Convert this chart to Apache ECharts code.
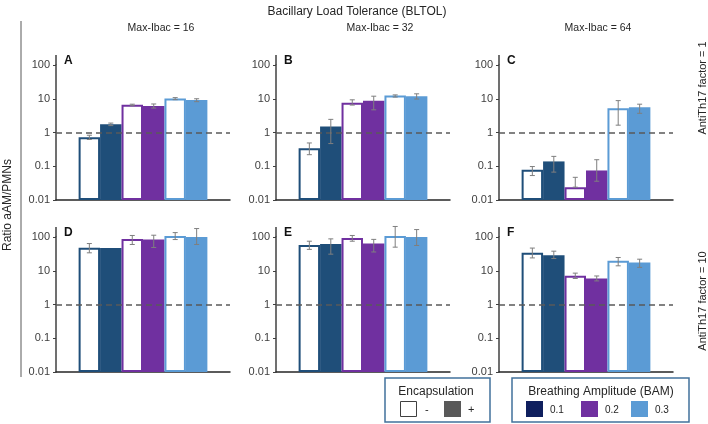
<!DOCTYPE html>
<html><head><meta charset="utf-8">
<script src="https://cdn.jsdelivr.net/npm/echarts@6/dist/echarts.min.js"></script>
<style>html,body{margin:0;padding:0;background:#fff}#c{width:708px;height:424px}</style>
</head><body><div id="c"></div>
<script>
// ---------- data ----------
const mainTitle = 'Bacillary Load Tolerance (BLTOL)';
const yAxisTitle = 'Ratio aAM/PMNs';
const panelLetters = ['A', 'B', 'C', 'D', 'E', 'F'];
const colTitles = ['Max-Ibac = 16', 'Max-Ibac = 32', 'Max-Ibac = 64'];
const rowTitles = ['AntiTh17 factor = 1', 'AntiTh17 factor = 10'];
const barNames = ['0.1 -', '0.1 +', '0.2 -', '0.2 +', '0.3 -', '0.3 +'];
const encLegendTitle = 'Encapsulation';
const encLegendLabels = ['-', '+'];
const bamLegendTitle = 'Breathing Amplitude (BAM)';
const bamLegendLabels = ['0.1', '0.2', '0.3'];

const valA  = [0.72, 1.75, 6.6, 6.1, 10.2, 9.2];
const lowA  = [0.62, 1.6, 6.2, 5.3, 9.4, 8.2];
const highA = [0.83, 1.9, 6.9, 7.0, 10.8, 10.0];

const valB  = [0.34, 1.5, 7.6, 8.7, 12.5, 11.9];
const lowB  = [0.22, 0.47, 6.5, 4.7, 11.2, 9.8];
const highB = [0.49, 2.45, 9.3, 11.9, 13.0, 14.0];

const valC  = [0.079, 0.139, 0.024, 0.075, 5.2, 5.6];
const lowC  = [0.053, 0.067, 0.024, 0.036, 1.65, 3.7];
const highC = [0.098, 0.196, 0.047, 0.156, 8.8, 6.9];

const valD  = [48, 47, 87, 84, 112, 120];
const lowD  = [34, 47, 60, 49, 84, 60];
const highD = [64, 47, 111, 113, 135, 178];

const valE  = [58, 62, 94, 64, 123, 112];
const lowE  = [43, 31, 75, 36, 50, 56];
const highE = [75, 88, 111, 85, 205, 166];

const valF  = [34, 29, 7.1, 5.9, 19.7, 17.5];
const lowF  = [24, 23, 5.9, 5.0, 14, 12.6];
const highF = [47, 38, 8.5, 7.0, 24.7, 22];

const refLine = 1;

const values = [valA, valB, valC, valD, valE, valF];
const lows = [lowA, lowB, lowC, lowD, lowE, lowF];
const highs = [highA, highB, highC, highD, highE, highF];

// ---------- style / layout ----------
const FONT = '"Liberation Sans", Arial, sans-serif';
const NAVY = '#1F4E79', PURPLE = '#7030A0', LBLUE = '#5B9BD5';
const barColors = [NAVY, NAVY, PURPLE, PURPLE, LBLUE, LBLUE];
const hollow = [true, false, true, false, true, false];
const gridLeft = [56, 276, 499], gridTop = [65, 237], gridW = 174, gridH = 135;
const TXT = '#262626';

const grids = [], xAxes = [], yAxes = [], series = [], graphics = [];
for (let p = 0; p < 6; p++) {
  const col = p % 3, row = Math.floor(p / 3);
  const L = gridLeft[col], T = gridTop[row];
  grids.push({ left: L, top: T, width: gridW, height: gridH, containLabel: false });
  xAxes.push({
    gridIndex: p, type: 'category', data: ['g'],
    axisLine: { show: true, lineStyle: { color: '#262626', width: 1.5 } },
    axisTick: { show: false }, axisLabel: { show: false }, splitLine: { show: false }
  });
  yAxes.push({
    gridIndex: p, type: 'log', logBase: 10, min: 0.01, max: 100, startValue: 0.01,
    axisLine: { show: true, lineStyle: { color: '#404040', width: 1.5 } },
    axisTick: { show: true, length: 3, inside: false, lineStyle: { color: '#404040' } },
    axisLabel: { show: true, color: '#404040', fontSize: 11, fontFamily: FONT, margin: 6,
      formatter: v => String(parseFloat(Number(v).toPrecision(2))) },
    splitLine: { show: false }
  });
  for (let k = 0; k < 6; k++) {
    const s = {
      type: 'bar', name: barNames[k], xAxisIndex: p, yAxisIndex: p,
      data: [values[p][k]], barGap: '0%', barCategoryGap: '26%',
      silent: true, animation: false,
      itemStyle: hollow[k]
        ? { color: '#ffffff', borderColor: barColors[k], borderWidth: 2 }
        : { color: barColors[k], borderWidth: 0 }
    };
    if (k === 5) {
      s.markLine = {
        silent: true, symbol: 'none', animation: false,
        data: [{ yAxis: refLine }],
        label: { show: false },
        lineStyle: { type: [6, 4], color: '#595959', width: 1.5 }
      };
      s.z = 3;
    }
    series.push(s);
  }
  const ebData = [];
  for (let k = 0; k < 6; k++) ebData.push([0, lows[p][k], highs[p][k], k]);
  series.push({
    type: 'custom', xAxisIndex: p, yAxisIndex: p, z: 5, silent: true, animation: false,
    encode: { x: 0, y: [1, 2] },
    data: ebData,
    renderItem: (params, api) => {
      const lo = api.value(1), hi = api.value(2), k = api.value(3);
      if (hi - lo < 1e-9) return null;
      const band = api.size([1, 1])[0];
      const barW = band * 0.74 / 6;
      const c = api.coord([0, lo]);
      const cx = c[0] + (k - 2.5) * barW;
      const yl = c[1], yh = api.coord([0, hi])[1];
      const st = { stroke: '#7f7f7f', lineWidth: 1 };
      return { type: 'group', children: [
        { type: 'line', shape: { x1: cx, y1: yl, x2: cx, y2: yh }, style: st },
        { type: 'line', shape: { x1: cx - 2.5, y1: yl, x2: cx + 2.5, y2: yl }, style: st },
        { type: 'line', shape: { x1: cx - 2.5, y1: yh, x2: cx + 2.5, y2: yh }, style: st }
      ] };
    }
  });
  // axis line extension above 100 and panel letter
  graphics.push({ type: 'line', silent: true, shape: { x1: L, y1: T - 10, x2: L, y2: T },
    style: { stroke: '#404040', lineWidth: 1.5 } });
  graphics.push({ type: 'text', silent: true, x: L + 8, y: T - 4,
    style: { text: panelLetters[p], font: 'bold 12px ' + FONT, fill: '#111', textVerticalAlign: 'middle' } });
}

// titles
graphics.push({ type: 'text', silent: true, x: 357, y: 12,
  style: { text: mainTitle, font: '12px ' + FONT, fill: TXT, textAlign: 'center', textVerticalAlign: 'middle' } });
const colTitleX = [161, 380, 598];
colTitles.forEach((t, i) => graphics.push({ type: 'text', silent: true, x: colTitleX[i], y: 28,
  style: { text: t, font: '10.5px ' + FONT, fill: TXT, textAlign: 'center', textVerticalAlign: 'middle' } }));
const rowTitleY = [88, 301];
rowTitles.forEach((t, i) => graphics.push({ type: 'text', silent: true, x: 703, y: rowTitleY[i], rotation: Math.PI / 2,
  style: { text: t, font: '11px ' + FONT, fill: TXT, textAlign: 'center', textVerticalAlign: 'middle' } }));
graphics.push({ type: 'text', silent: true, x: 8, y: 205, rotation: Math.PI / 2,
  style: { text: yAxisTitle, font: '12px ' + FONT, fill: TXT, textAlign: 'center', textVerticalAlign: 'middle' } });
graphics.push({ type: 'line', silent: true, shape: { x1: 21, y1: 21, x2: 21, y2: 377 },
  style: { stroke: '#595959', lineWidth: 1 } });

// legends
const boxStyle = { fill: '#fff', stroke: '#41719C', lineWidth: 1.5 };
graphics.push({ type: 'rect', silent: true, shape: { x: 385, y: 378, width: 105, height: 44 }, style: boxStyle });
graphics.push({ type: 'text', silent: true, x: 436, y: 392,
  style: { text: encLegendTitle, font: '12px ' + FONT, fill: TXT, textAlign: 'center', textVerticalAlign: 'middle' } });
graphics.push({ type: 'rect', silent: true, shape: { x: 400.5, y: 401.5, width: 16, height: 15 },
  style: { fill: '#fff', stroke: '#404040', lineWidth: 1 } });
graphics.push({ type: 'text', silent: true, x: 425, y: 410,
  style: { text: encLegendLabels[0], font: '11px ' + FONT, fill: TXT, textVerticalAlign: 'middle' } });
graphics.push({ type: 'rect', silent: true, shape: { x: 444, y: 401, width: 17, height: 16 },
  style: { fill: '#595959' } });
graphics.push({ type: 'text', silent: true, x: 468, y: 410,
  style: { text: encLegendLabels[1], font: '11px ' + FONT, fill: TXT, textVerticalAlign: 'middle' } });

graphics.push({ type: 'rect', silent: true, shape: { x: 512, y: 378, width: 177, height: 44 }, style: boxStyle });
graphics.push({ type: 'text', silent: true, x: 601, y: 392,
  style: { text: bamLegendTitle, font: '12px ' + FONT, fill: TXT, textAlign: 'center', textVerticalAlign: 'middle' } });
const bamSwatch = ['#0F1F5E', PURPLE, LBLUE];
const bamX = [526, 581, 631];
bamLegendLabels.forEach((t, i) => {
  graphics.push({ type: 'rect', silent: true, shape: { x: bamX[i], y: 401, width: 17, height: 16 },
    style: { fill: bamSwatch[i] } });
  graphics.push({ type: 'text', silent: true, x: bamX[i] + 24, y: 410,
    style: { text: t, font: '10px ' + FONT, fill: TXT, textVerticalAlign: 'middle' } });
});

const chart = echarts.init(document.getElementById('c'), null, { renderer: 'canvas' });
chart.setOption({
  animation: false,
  backgroundColor: '#fff',
  textStyle: { fontFamily: FONT },
  grid: grids, xAxis: xAxes, yAxis: yAxes, series: series,
  graphic: graphics
});
</script></body></html>
